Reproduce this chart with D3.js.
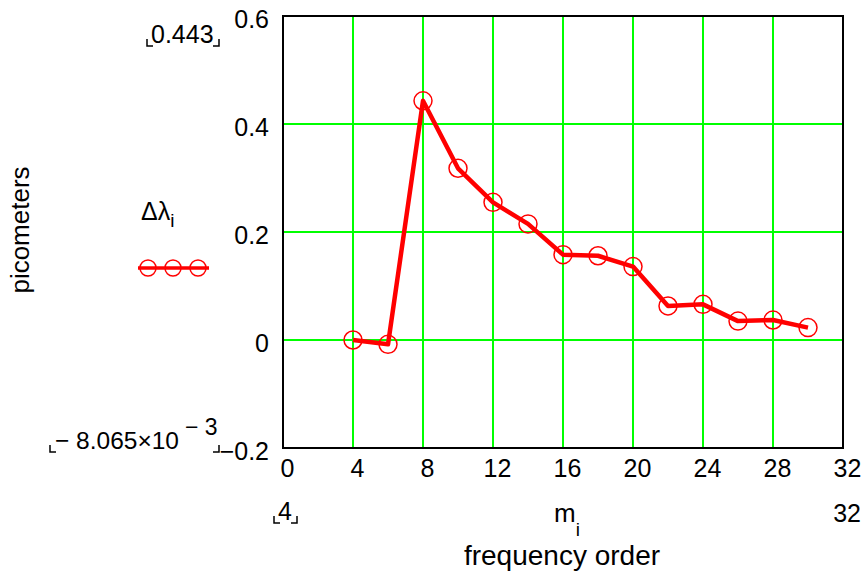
<!DOCTYPE html>
<html>
<head>
<meta charset="utf-8">
<script src="https://cdn.jsdelivr.net/npm/d3@7"></script>
<style>
  body { margin: 0; background: #fff; }
  text { font-family: "Liberation Sans", Arial, sans-serif; fill: #000; }
</style>
</head>
<body>
<div id="chart"></div>
<script>
// frequency order m_i and wavelength shift (picometers)
var orders = [4, 6, 8, 10, 12, 14, 16, 18, 20, 22, 24, 26, 28, 30];
var shifts = [0, -0.008065, 0.443, 0.318, 0.255, 0.215, 0.158, 0.156, 0.136, 0.063, 0.066, 0.035, 0.037, 0.023];
var xTicks = [0, 4, 8, 12, 16, 20, 24, 28, 32];
var yTicks = [-0.2, 0, 0.2, 0.4, 0.6];

var width = 865;
var height = 575;
var plotL = 283, plotR = 843, plotT = 16, plotB = 448;

var svg = d3.select("#chart")
            .append("svg")
            .attr("width", width)
            .attr("height", height);

var x = d3.scaleLinear().domain([0, 32]).range([plotL, plotR]);
var y = d3.scaleLinear().domain([-0.2, 0.6]).range([plotB, plotT]);

// green grid
svg.append("g")
    .selectAll("line")
    .data(xTicks.slice(1, -1))
    .enter()
    .append("line")
    .attr("x1", (d) => x(d)).attr("x2", (d) => x(d))
    .attr("y1", plotT).attr("y2", plotB)
    .attr("stroke", "#00ff00").attr("stroke-width", 2);

svg.append("g")
    .selectAll("line")
    .data(yTicks.slice(1, -1))
    .enter()
    .append("line")
    .attr("x1", plotL).attr("x2", plotR)
    .attr("y1", (d) => y(d)).attr("y2", (d) => y(d))
    .attr("stroke", "#00ff00").attr("stroke-width", 2);

// frame
svg.append("rect")
    .attr("x", plotL).attr("y", plotT)
    .attr("width", plotR - plotL).attr("height", plotB - plotT)
    .attr("fill", "none").attr("stroke", "#000").attr("stroke-width", 2);

// axes labels (no tick lines)
var xaxis = d3.axisBottom(x).tickValues(xTicks).tickSize(0).tickPadding(10).tickFormat(d3.format("d"));
var yaxis = d3.axisLeft(y).tickValues(yTicks).tickSize(0).tickPadding(14)
    .tickFormat((d) => d === 0 ? "0" : d3.format(".1f")(d).replace("-", "\u2212"));

var gx = svg.append("g").attr("transform", "translate(0," + plotB + ")").call(xaxis);
var gy = svg.append("g").attr("transform", "translate(" + plotL + ",0)").call(yaxis);
[gx, gy].forEach(function(g) {
    g.select(".domain").remove();
    g.selectAll("text").style("font-size", "25px").attr("font-family", null).attr("fill", "#000");
});
gx.selectAll("text").attr("dx", 4).attr("y", 29).attr("dy", 0);
gy.selectAll("text").attr("dy", 11);

// data line
var line = d3.line()
    .x((d, i) => x(orders[i]))
    .y((d) => y(d));

svg.append("path")
    .datum(shifts)
    .attr("d", line)
    .attr("fill", "none")
    .attr("stroke", "#ff0000")
    .attr("stroke-width", 4.5)
    .attr("stroke-linejoin", "round");

svg.append("g")
    .selectAll("circle")
    .data(shifts)
    .enter()
    .append("circle")
    .attr("cx", (d, i) => x(orders[i]))
    .attr("cy", (d) => y(d))
    .attr("r", 9)
    .attr("fill", "none")
    .attr("stroke", "#ff0000")
    .attr("stroke-width", 1.5);

// legend
svg.append("text")
    .attr("x", 141).attr("y", 220)
    .style("font-size", "25px")
    .html("\u0394\u03bb<tspan dy='7' font-size='19'>i</tspan>");

svg.append("line")
    .attr("x1", 138).attr("x2", 209)
    .attr("y1", 268).attr("y2", 268)
    .attr("stroke", "#ff0000").attr("stroke-width", 3.5);

svg.append("g")
    .selectAll("circle")
    .data([148, 173, 198])
    .enter()
    .append("circle")
    .attr("cx", (d) => d).attr("cy", 268).attr("r", 8)
    .attr("fill", "none").attr("stroke", "#ff0000").attr("stroke-width", 1.5);

// y axis title
svg.append("text")
    .attr("transform", "translate(29,230) rotate(-90)")
    .attr("text-anchor", "middle")
    .style("font-size", "26px")
    .text("picometers");

// bracket helper: corner marks round a limit value
function brackets(x0, x1, yb) {
    svg.append("path")
        .attr("d", "M" + x0 + "," + (yb - 7) + "V" + yb + "H" + (x0 + 6) +
                   "M" + x1 + "," + (yb - 7) + "V" + yb + "H" + (x1 - 6))
        .attr("fill", "none").attr("stroke", "#000").attr("stroke-width", 1.5);
}

// max / min annotations
svg.append("text")
    .attr("x", 151).attr("y", 43)
    .style("font-size", "25px")
    .text("0.443");
brackets(147, 219, 46);

svg.append("text")
    .attr("x", 55).attr("y", 449)
    .style("font-size", "24.5px")
    .html("\u2212 8.065\u00d710<tspan dx='6' dy='-14' font-size='23'>\u2212 3</tspan>");
brackets(50, 219, 452);

svg.append("text")
    .attr("x", 278).attr("y", 520)
    .style("font-size", "25px")
    .text("4");
brackets(274, 297, 523);

svg.append("text")
    .attr("x", 861).attr("y", 522)
    .attr("text-anchor", "end")
    .style("font-size", "25px")
    .text("32");

svg.append("text")
    .attr("x", 554).attr("y", 522)
    .style("font-size", "26px")
    .html("m<tspan dy='14' font-size='19'>i</tspan>");

svg.append("text")
    .attr("x", 562).attr("y", 565)
    .attr("text-anchor", "middle")
    .style("font-size", "28px")
    .text("frequency order");
</script>
</body>
</html>
